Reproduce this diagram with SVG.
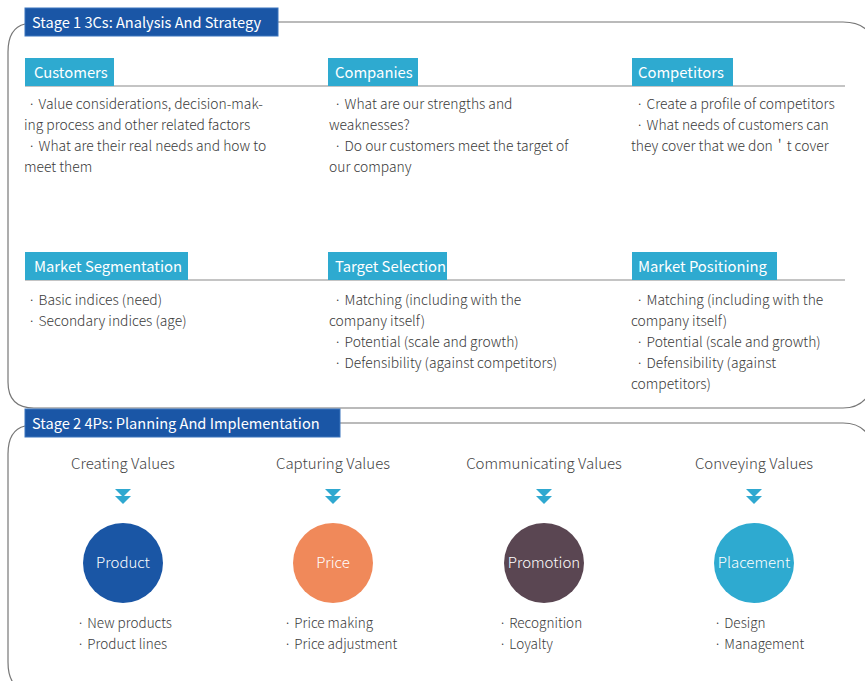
<svg xmlns="http://www.w3.org/2000/svg" width="865" height="681" viewBox="0 0 865 681">
<style>
text{font-family:"Noto Sans CJK KR","Noto Sans",sans-serif}
.title{fill:#fff;font-size:14.6px}
.tbox{fill:#1a56a6;stroke:#3b74bd;stroke-width:1}
.hbox{fill:#2eaad0}
.htxt{fill:#fff;font-size:14.8px}
.body{fill:#3a3a3a;font-size:13.5px;font-weight:300}
.b1{font-size:13.85px}
.col{fill:#444;font-size:15px;font-weight:300;text-anchor:middle}
.ctxt{fill:#fff;font-size:15px;font-weight:300;text-anchor:middle}
.rule{stroke:#8a8a8a;stroke-width:1.2}
.frame{fill:none;stroke:#777;stroke-width:1.2}
.arr{fill:#2fa8d0}
</style>
<rect width="865" height="681" fill="#fff"/>
<g id="stage1">
<path class="frame" d="M25,24 Q8,28 8,52 L8,382 Q8,408 34,408 L843,408 Q862,408 870,392"/>
<path class="frame" d="M278,22 L843,22 Q862,22 870,34"/>
<rect class="tbox" x="25" y="8" width="253" height="28"/>
<text class="title" x="32" y="28">Stage 1 3Cs: Analysis And Strategy</text>
</g>
<g id="rules">
<line class="rule" x1="25" y1="86" x2="845" y2="86"/>
<line class="rule" x1="25" y1="280" x2="845" y2="280"/>
</g>
<g id="customers">
<rect class="hbox" x="25" y="58" width="89" height="28"/>
<text class="htxt" x="34" y="78">Customers</text>
<text class="body b1" x="28" y="109">· Value considerations, decision-mak-</text>
<text class="body b1" x="24" y="130">ing process and other related factors</text>
<text class="body b1" x="28" y="151">· What are their real needs and how to</text>
<text class="body b1" x="24" y="172">meet them</text>
</g>
<g id="companies">
<rect class="hbox" x="328" y="58" width="90" height="28"/>
<text class="htxt" x="335" y="78">Companies</text>
<text class="body b1" x="334" y="109">· What are our strengths and</text>
<text class="body b1" x="329" y="130">weaknesses?</text>
<text class="body b1" x="334" y="151">· Do our customers meet the target of</text>
<text class="body b1" x="329" y="172">our company</text>
</g>
<g id="competitors">
<rect class="hbox" x="632" y="58" width="101" height="28"/>
<text class="htxt" x="638" y="78">Competitors</text>
<text class="body b1" x="636" y="109">· Create a profile of competitors</text>
<text class="body b1" x="636" y="130">· What needs of customers can</text>
<text class="body b1" x="631" y="151">they cover that we don＇t cover</text>
</g>
<g id="segmentation">
<rect class="hbox" x="25" y="252" width="163" height="28"/>
<text class="htxt" x="34" y="272">Market Segmentation</text>
<text class="body b1" x="28" y="305">· Basic indices (need)</text>
<text class="body b1" x="28" y="326">· Secondary indices (age)</text>
</g>
<g id="targeting">
<rect class="hbox" x="328" y="252" width="119" height="28"/>
<text class="htxt" x="335" y="272">Target Selection</text>
<text class="body b1" x="334" y="305">· Matching (including with the</text>
<text class="body b1" x="329" y="326">company itself)</text>
<text class="body b1" x="334" y="347">· Potential (scale and growth)</text>
<text class="body b1" x="334" y="368">· Defensibility (against competitors)</text>
</g>
<g id="positioning">
<rect class="hbox" x="632" y="252" width="145" height="28"/>
<text class="htxt" x="638" y="272">Market Positioning</text>
<text class="body b1" x="636" y="305">· Matching (including with the</text>
<text class="body b1" x="631" y="326">company itself)</text>
<text class="body b1" x="636" y="347">· Potential (scale and growth)</text>
<text class="body b1" x="636" y="368">· Defensibility (against</text>
<text class="body b1" x="631" y="389">competitors)</text>
</g>
<g id="stage2">
<path class="frame" d="M25,426 Q8,430 8,454 L8,662 Q8,684 22,690"/>
<path class="frame" stroke="#aaa" d="M340,423 L843,423 Q862,423 870,438"/>
<rect class="tbox" x="25" y="409" width="315" height="28"/>
<text class="title" x="32" y="429">Stage 2 4Ps: Planning And Implementation</text>
</g>
<g id="connectors">
<path class="arr" d="M115,489 H131 L123,497 Z M115,496 H131 L123,504 Z"/>
<path class="arr" d="M325,489 H341 L333,497 Z M325,496 H341 L333,504 Z"/>
<path class="arr" d="M536,489 H552 L544,497 Z M536,496 H552 L544,504 Z"/>
<path class="arr" d="M746,489 H762 L754,497 Z M746,496 H762 L754,504 Z"/>
</g>
<g id="product">
<text class="col" x="123" y="469">Creating Values</text>
<circle cx="123" cy="563" r="40" fill="#1a56a5"/>
<text class="ctxt" x="123" y="568">Product</text>
<text class="body" x="77" y="628">· New products</text>
<text class="body" x="77" y="649">· Product lines</text>
</g>
<g id="price">
<text class="col" x="333" y="469">Capturing Values</text>
<circle cx="333" cy="563" r="40" fill="#f0895a"/>
<text class="ctxt" x="333" y="568">Price</text>
<text class="body" x="284" y="628">· Price making</text>
<text class="body" x="284" y="649">· Price adjustment</text>
</g>
<g id="promotion">
<text class="col" x="544" y="469">Communicating Values</text>
<circle cx="544" cy="563" r="40" fill="#5a4652"/>
<text class="ctxt" x="544" y="568">Promotion</text>
<text class="body" x="499" y="628">· Recognition</text>
<text class="body" x="499" y="649">· Loyalty</text>
</g>
<g id="placement">
<text class="col" x="754" y="469">Conveying Values</text>
<circle cx="754" cy="563" r="40" fill="#2eaad0"/>
<text class="ctxt" x="754" y="568">Placement</text>
<text class="body" x="714" y="628">· Design</text>
<text class="body" x="714" y="649">· Management</text>
</g>
</svg>
